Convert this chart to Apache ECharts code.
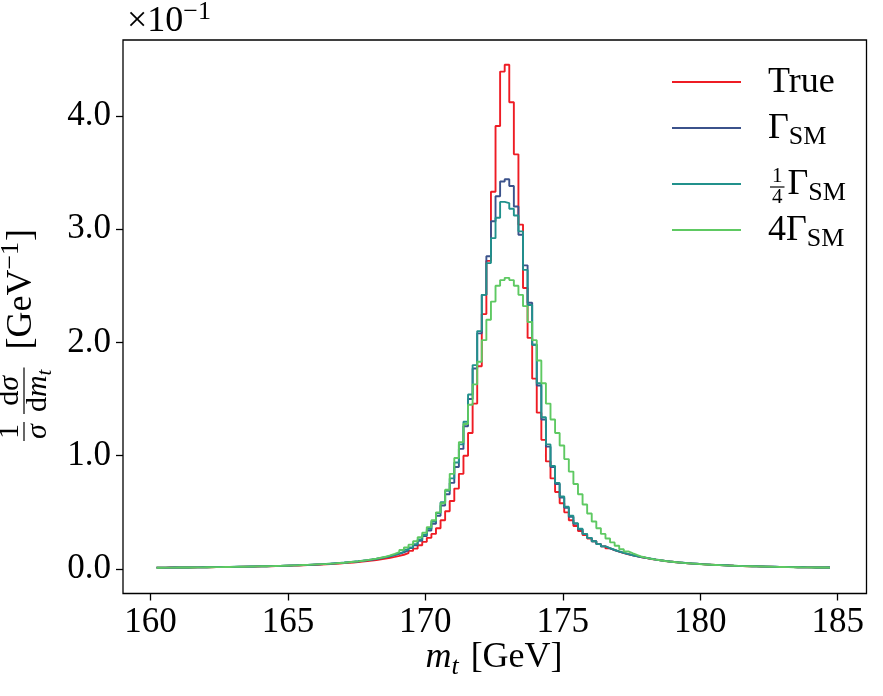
<!DOCTYPE html>
<html><head><meta charset="utf-8">
<script src="https://cdn.jsdelivr.net/npm/echarts@6/dist/echarts.min.js"></script>
<style>html,body{margin:0;padding:0;background:#fff}#c{width:883px;height:696px}</style>
</head><body><div id="c"></div>
<script>
// ---- data (values in units of 1e-1 GeV^-1) ----
const binStart = 160.22;          // first bin edge [GeV]
const binWidth = 1 / 6;           // bin width [GeV]
const xTicks = [160, 165, 170, 175, 180, 185];
const yTicks = [0, 1, 2, 3, 4];
const seriesNames = ['True', 'Γ_SM', '1/4 Γ_SM', '4 Γ_SM'];

const trueVals = [0.012,0.012,0.013,0.013,0.013,0.014,
 0.014,0.014,0.015,0.015,0.016,0.016,
 0.017,0.017,0.018,0.018,0.019,0.019,
 0.020,0.021,0.021,0.022,0.023,0.024,
 0.025,0.026,0.027,0.028,0.029,0.030,
 0.031,0.033,0.034,0.036,0.038,0.040,
 0.042,0.044,0.046,0.049,0.052,0.055,
 0.058,0.062,0.066,0.070,0.075,0.080,
 0.086,0.092,0.099,0.107,0.116,0.126,
 0.14,0.16,0.18,0.21,0.24,0.275,
 0.31,0.36,0.43,0.51,0.60,0.71,
 0.84,1.00,1.20,1.46,1.79,2.25,
 2.72,3.33,3.91,4.39,4.45,4.12,
 3.66,3.04,2.48,2.04,1.68,1.38,
 1.14,0.95,0.80,0.68,0.58,0.50,
 0.43,0.38,0.335,0.30,0.27,0.245,
 0.22,0.20,0.182,0.167,0.153,0.141,
 0.130,0.121,0.112,0.104,0.096,0.089,
 0.083,0.076,0.071,0.066,0.062,0.058,
 0.054,0.051,0.048,0.045,0.043,0.040,
 0.038,0.036,0.034,0.032,0.031,0.029,
 0.028,0.027,0.025,0.024,0.023,0.022,
 0.021,0.020,0.019,0.019,0.018,0.017,
 0.017,0.016,0.016,0.015,0.015,0.014,
 0.014,0.013,0.013];

const smVals = [0.012,0.012,0.013,0.013,0.013,0.014,
 0.014,0.015,0.015,0.016,0.016,0.017,
 0.017,0.018,0.018,0.019,0.019,0.020,
 0.021,0.021,0.022,0.023,0.024,0.025,
 0.026,0.027,0.028,0.029,0.030,0.032,
 0.033,0.035,0.036,0.038,0.040,0.042,
 0.045,0.047,0.050,0.053,0.056,0.060,
 0.063,0.067,0.072,0.077,0.082,0.088,
 0.095,0.103,0.112,0.122,0.134,0.148,
 0.165,0.185,0.21,0.25,0.29,0.34,
 0.40,0.47,0.56,0.66,0.76,0.90,
 1.06,1.26,1.50,1.77,2.08,2.42,
 2.76,3.07,3.29,3.42,3.44,3.38,
 3.20,2.95,2.68,2.35,1.98,1.62,
 1.32,1.08,0.90,0.75,0.63,0.54,
 0.46,0.40,0.35,0.31,0.275,0.245,
 0.22,0.20,0.183,0.168,0.154,0.142,
 0.131,0.121,0.112,0.104,0.097,0.090,
 0.083,0.077,0.072,0.067,0.062,0.058,
 0.055,0.051,0.048,0.046,0.043,0.041,
 0.038,0.036,0.034,0.033,0.031,0.029,
 0.028,0.027,0.026,0.024,0.023,0.022,
 0.021,0.020,0.020,0.019,0.018,0.017,
 0.017,0.016,0.016,0.015,0.015,0.014,
 0.014,0.013,0.013];

const quarterVals = [0.012,0.012,0.012,0.013,0.013,0.014,
 0.014,0.015,0.015,0.015,0.016,0.017,
 0.017,0.018,0.018,0.019,0.020,0.020,
 0.021,0.022,0.022,0.023,0.024,0.025,
 0.026,0.027,0.028,0.030,0.031,0.032,
 0.034,0.035,0.037,0.039,0.041,0.043,
 0.045,0.048,0.051,0.054,0.057,0.061,
 0.065,0.069,0.074,0.079,0.085,0.091,
 0.098,0.106,0.115,0.126,0.138,0.152,
 0.17,0.19,0.22,0.26,0.30,0.355,
 0.42,0.495,0.59,0.69,0.80,0.94,
 1.10,1.30,1.54,1.80,2.10,2.42,
 2.70,2.92,3.10,3.24,3.23,3.18,
 3.12,2.98,2.64,2.33,1.98,1.64,
 1.34,1.10,0.91,0.76,0.64,0.55,
 0.47,0.405,0.355,0.31,0.275,0.245,
 0.22,0.20,0.184,0.168,0.155,0.142,
 0.131,0.122,0.113,0.105,0.098,0.091,
 0.084,0.078,0.072,0.067,0.063,0.059,
 0.055,0.052,0.049,0.046,0.043,0.041,
 0.039,0.037,0.035,0.033,0.031,0.030,
 0.028,0.027,0.026,0.025,0.024,0.023,
 0.022,0.021,0.020,0.019,0.018,0.018,
 0.017,0.016,0.016,0.015,0.015,0.014,
 0.014,0.013,0.013];

const fourVals = [0.011,0.012,0.012,0.012,0.013,0.013,
 0.014,0.014,0.015,0.015,0.016,0.016,
 0.017,0.017,0.018,0.018,0.019,0.020,
 0.020,0.021,0.022,0.023,0.024,0.025,
 0.026,0.027,0.028,0.029,0.030,0.032,
 0.033,0.035,0.037,0.039,0.041,0.043,
 0.045,0.048,0.050,0.053,0.056,0.060,
 0.064,0.068,0.073,0.079,0.085,0.092,
 0.100,0.108,0.120,0.134,0.150,0.168,
 0.19,0.215,0.245,0.28,0.32,0.37,
 0.43,0.50,0.58,0.70,0.84,0.98,
 1.12,1.28,1.45,1.63,1.83,2.02,
 2.20,2.36,2.50,2.55,2.57,2.55,
 2.50,2.42,2.32,2.18,2.02,1.84,
 1.64,1.46,1.32,1.20,1.09,0.97,
 0.86,0.75,0.66,0.57,0.49,0.42,
 0.36,0.31,0.27,0.235,0.205,0.175,
 0.155,0.138,0.122,0.108,0.098,0.090,
 0.083,0.077,0.071,0.066,0.062,0.058,
 0.054,0.051,0.048,0.045,0.042,0.040,
 0.038,0.036,0.034,0.032,0.030,0.029,
 0.028,0.026,0.025,0.024,0.023,0.022,
 0.021,0.020,0.019,0.018,0.018,0.017,
 0.016,0.016,0.015,0.015,0.014,0.014,
 0.013,0.013,0.012];

// ---- styling ----
const colors = ['#ee1c24', '#3b528b', '#21918c', '#5ec962'];
const FONT = '"Liberation Serif", "Times New Roman", serif';

function stepData(vals) {
  const d = vals.map((v, i) => [binStart + i * binWidth, v]);
  d.push([binStart + vals.length * binWidth, vals[vals.length - 1]]);
  return d;
}

// text layout helper for math-like labels
const mctx = document.createElement('canvas').getContext('2d');
function tw(t, size, italic) { mctx.font = (italic ? 'italic ' : '') + size + 'px ' + FONT; return mctx.measureText(t).width; }
function runW(arr) { return arr.reduce((s, p) => s + (p.pad || 0) + tw(p.t, p.size, p.italic), 0); }
function txt(p, x, base) {
  return { type: 'text', x: x, y: base + (p.dy || 0) - 0.32 * p.size,
    style: { text: p.t, fontSize: p.size, fontFamily: FONT, fontStyle: p.italic ? 'italic' : 'normal',
      fill: '#000', align: 'left', verticalAlign: 'middle' } };
}
function emitRun(arr, x0, base, ch) {
  let x = x0;
  for (const p of arr) { x += p.pad || 0; ch.push(txt(p, x, base)); x += tw(p.t, p.size, p.italic); }
  return x;
}
function mathGroup(parts, gx, gy, anchor, rotation) {
  const ch = []; let cx = 0;
  for (const p of parts) {
    cx += p.pad || 0;
    if (p.frac) {
      const wn = runW(p.num), wd = runW(p.den);
      const side = p.side || 2;
      const W = Math.max(wn, wd) + 4;
      cx += side;
      const bar = -p.axis;
      emitRun(p.num, cx + (W - wn) / 2, bar - 4, ch);
      emitRun(p.den, cx + (W - wd) / 2, bar + 3 + 0.68 * p.den[0].size, ch);
      ch.push({ type: 'rect', shape: { x: cx, y: bar - 0.6, width: W, height: 1.2 }, style: { fill: '#000' } });
      cx += W + side;
    } else {
      ch.push(txt(p, cx, 0)); cx += tw(p.t, p.size, p.italic);
    }
  }
  const shift = anchor === 'center' ? -cx / 2 : 0;
  ch.forEach(c => { if (c.type === 'rect') c.shape.x += shift; else c.x += shift; });
  return { type: 'group', x: gx, y: gy, rotation: rotation || 0, children: ch, silent: true };
}

const S = 36, s = 26, F = 30;
const graphics = [];
// x axis title
graphics.push(mathGroup([
  { t: 'm', size: S, italic: true }, { t: 't', size: s, italic: true, dy: 6 },
  { t: '[GeV]', size: S, pad: 12 }], 494, 669, 'center', 0));
// y axis title
graphics.push(mathGroup([
  { frac: true, axis: 9, side: 4, num: [{ t: '1', size: F }], den: [{ t: 'σ', size: F, italic: true }] },
  { frac: true, axis: 9, side: 4, num: [{ t: 'd', size: F }, { t: 'σ', size: F, italic: true }],
    den: [{ t: 'd', size: F }, { t: 'm', size: F, italic: true }, { t: 't', size: 21, italic: true, dy: 5 }] },
  { t: '[GeV', size: S, pad: 14 }, { t: '−1', size: s, dy: -14 }, { t: ']', size: S, pad: 1 }
], 33, 337, 'center', Math.PI / 2));
// offset text
graphics.push(mathGroup([{ t: '×10', size: S }, { t: '−1', size: s, dy: -13 }], 127, 33, 'left', 0));
// legend
const legRows = [82, 128, 184, 230];
const legLabels = [
  [{ t: 'True', size: S }],
  [{ t: 'Γ', size: S }, { t: 'SM', size: s, dy: 5 }],
  [{ frac: true, axis: 9, side: 0, num: [{ t: '1', size: 21 }], den: [{ t: '4', size: 21 }] }, { t: 'Γ', size: S, pad: 1 }, { t: 'SM', size: s, dy: 5 }],
  [{ t: '4Γ', size: S }, { t: 'SM', size: s, dy: 5 }]
];
legRows.forEach((y, i) => {
  graphics.push({ type: 'line', shape: { x1: 672, y1: y, x2: 741, y2: y }, style: { stroke: colors[i], lineWidth: 2 } });
  graphics.push(mathGroup(legLabels[i], 768, y + 12, 'left', 0));
});

const chart = echarts.init(document.getElementById('c'), null, { renderer: 'canvas' });
chart.setOption({
  animation: false,
  backgroundColor: '#fff',
  grid: { left: 123, right: 16.5, top: 40, bottom: 102.5, show: true, borderColor: '#000', borderWidth: 1.3, backgroundColor: 'transparent' },
  xAxis: {
    type: 'value', min: 159.0, max: 186.05,
    axisLine: { show: false, onZero: false },
    splitLine: { show: false },
    axisTick: { show: true, inside: false, length: 7, customValues: xTicks, lineStyle: { color: '#000', width: 1.3 } },
    axisLabel: { customValues: xTicks, margin: 12, fontSize: 35, fontFamily: FONT, color: '#000', formatter: v => String(v) }
  },
  yAxis: {
    type: 'value', min: -0.216, max: 4.669,
    axisLine: { show: false, onZero: false },
    splitLine: { show: false },
    axisTick: { show: true, inside: false, length: 7, customValues: yTicks, lineStyle: { color: '#000', width: 1.3 } },
    axisLabel: { customValues: yTicks, margin: 12, fontSize: 35, fontFamily: FONT, color: '#000', formatter: v => v.toFixed(1) }
  },
  series: [trueVals, smVals, quarterVals, fourVals].map((vals, i) => ({
    name: seriesNames[i], type: 'line', step: 'end', showSymbol: false, symbol: 'none',
    data: stepData(vals), lineStyle: { color: colors[i], width: 1.9 }, itemStyle: { color: colors[i] },
    z: 2 + i, clip: true
  })),
  graphic: graphics
});
</script>
</body></html>
